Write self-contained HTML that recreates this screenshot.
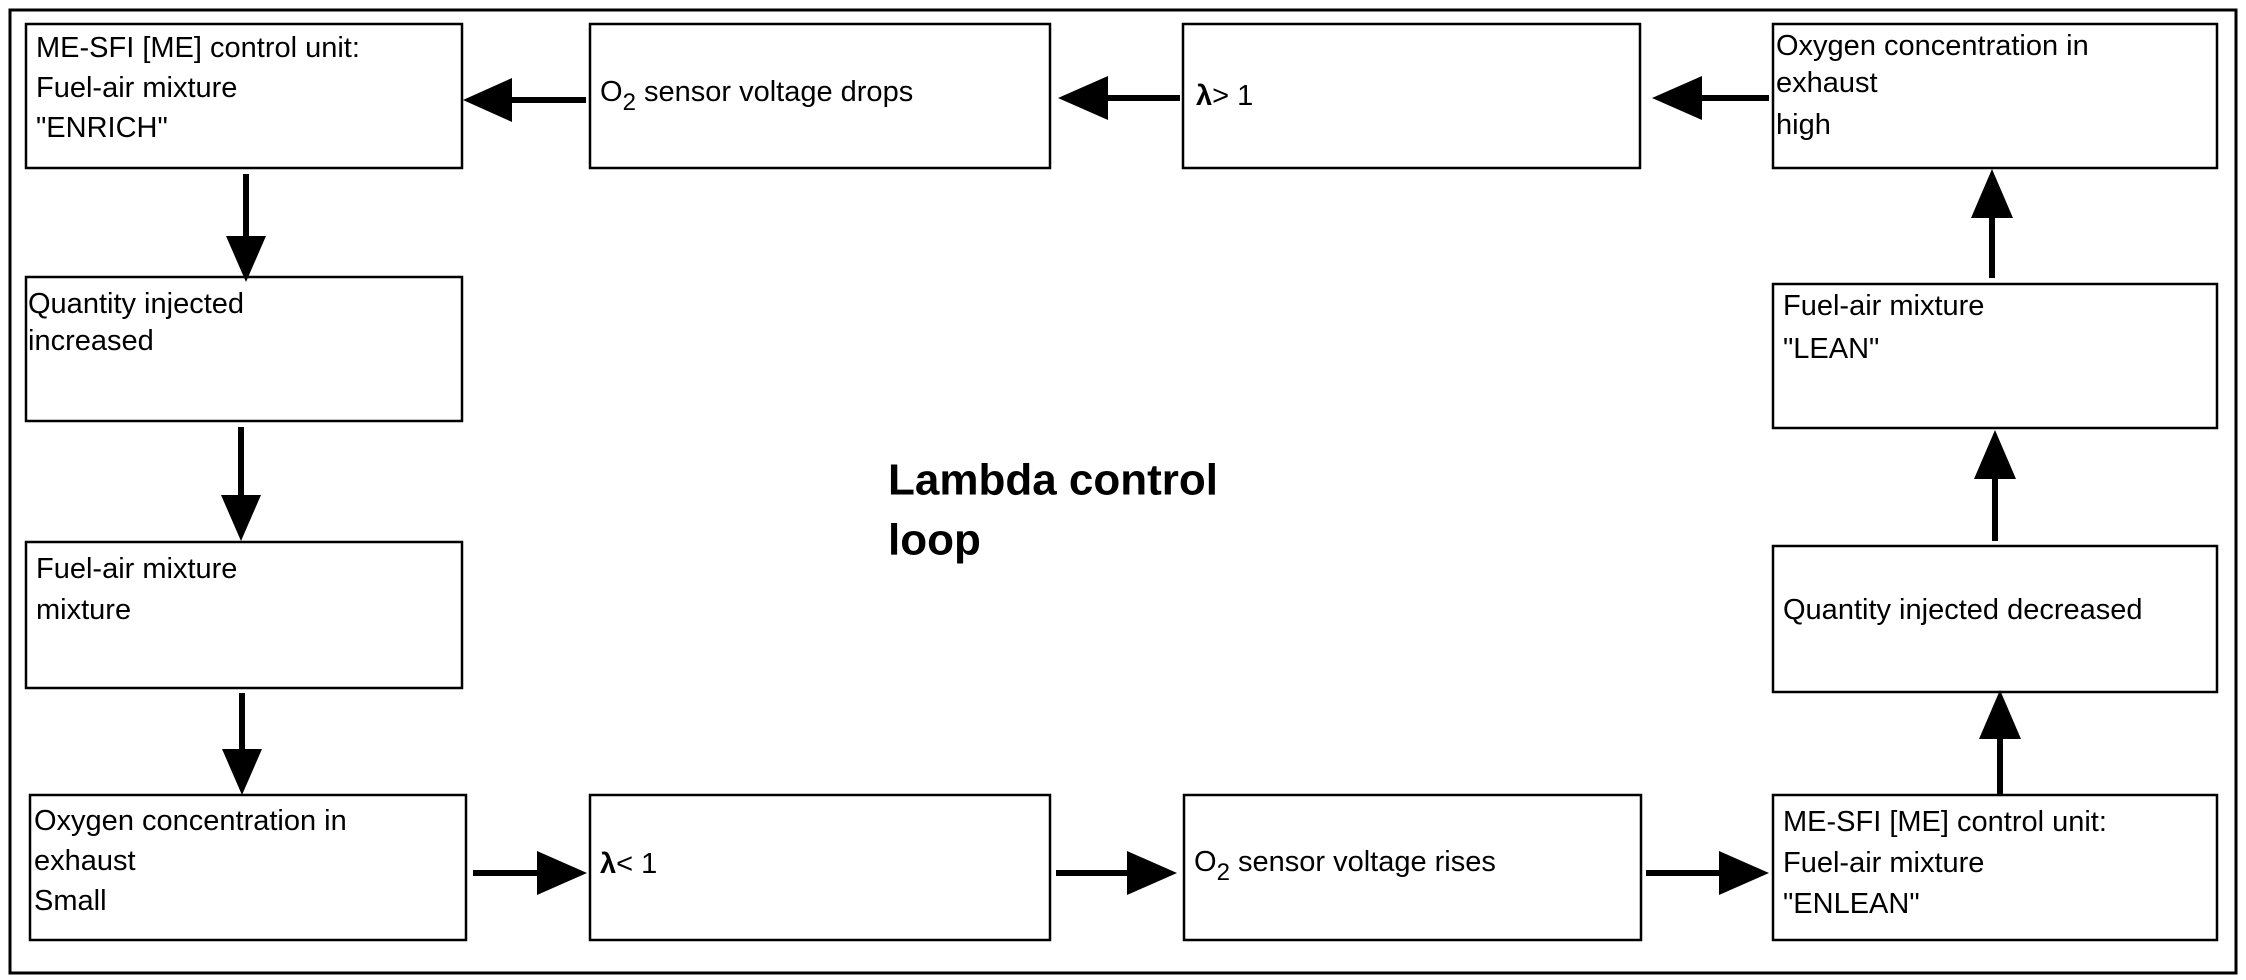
<!DOCTYPE html>
<html><head><meta charset="utf-8"><style>html,body{margin:0;padding:0;background:#fff}svg{display:block}</style></head>
<body>
<svg width="2246" height="980" viewBox="0 0 2246 980" xmlns="http://www.w3.org/2000/svg" font-family="Liberation Sans, Arial, sans-serif" font-size="29" fill="#000">
<rect x="10" y="10" width="2226" height="963" fill="none" stroke="#000" stroke-width="3"/>
<g fill="none" stroke="#000" stroke-width="2.5">
<rect x="26" y="24" width="436" height="144"/>
<rect x="590" y="24" width="460" height="144"/>
<rect x="1183" y="24" width="457" height="144"/>
<rect x="1773" y="24" width="444" height="144"/>
<rect x="26" y="277" width="436" height="144"/>
<rect x="26" y="542" width="436" height="146"/>
<rect x="30" y="795" width="436" height="145"/>
<rect x="590" y="795" width="460" height="145"/>
<rect x="1184" y="795" width="457" height="145"/>
<rect x="1773" y="795" width="444" height="145"/>
<rect x="1773" y="284" width="444" height="144"/>
<rect x="1773" y="546" width="444" height="146"/>
</g>
<g stroke="#000" stroke-width="6">
<line x1="512" y1="100" x2="586" y2="100"/>
<line x1="1108" y1="98" x2="1180" y2="98"/>
<line x1="1702" y1="98" x2="1769" y2="98"/>
<line x1="246" y1="174" x2="246" y2="240"/>
<line x1="241" y1="427" x2="241" y2="495"/>
<line x1="242" y1="693" x2="242" y2="750"/>
<line x1="473" y1="873" x2="540" y2="873"/>
<line x1="1056" y1="873" x2="1130" y2="873"/>
<line x1="1646" y1="873" x2="1720" y2="873"/>
<line x1="2000" y1="794" x2="2000" y2="735"/>
<line x1="1995" y1="541" x2="1995" y2="475"/>
<line x1="1992" y1="278" x2="1992" y2="215"/>
</g>
<g fill="#000">
<polygon points="463,100 512,78 512,122"/>
<polygon points="1058,98 1108,76 1108,120"/>
<polygon points="1652,98 1702,76 1702,120"/>
<polygon points="246,282 226,236 266,236"/>
<polygon points="241,541 221,495 261,495"/>
<polygon points="242,795 222,749 262,749"/>
<polygon points="587,873 537,851 537,895"/>
<polygon points="1177,873 1127,851 1127,895"/>
<polygon points="1769,873 1719,851 1719,895"/>
<polygon points="2000,690 1979,739 2021,739"/>
<polygon points="1995,430 1974,479 2016,479"/>
<polygon points="1992,169 1971,218 2013,218"/>
</g>
<g dominant-baseline="central">
<text x="36" y="48">ME-SFI [ME] control unit:</text>
<text x="36" y="88">Fuel-air mixture</text>
<text x="36" y="128">"ENRICH"</text>
<text x="600" y="92">O<tspan font-size="24" dy="10">2</tspan><tspan dy="-10"> sensor voltage drops</tspan></text>
<text x="1196" y="96"><tspan font-weight="bold">λ</tspan>&gt; 1</text>
<text x="1776" y="46">Oxygen concentration in</text>
<text x="1776" y="83">exhaust</text>
<text x="1776" y="125"> high</text>
<text x="28" y="304">Quantity injected</text>
<text x="28" y="341">increased</text>
<text x="36" y="569">Fuel-air mixture</text>
<text x="36" y="610">mixture</text>
<text x="34" y="821">Oxygen concentration in</text>
<text x="34" y="861">exhaust</text>
<text x="34" y="901"> Small</text>
<text x="600" y="864"><tspan font-weight="bold">λ</tspan>&lt; 1</text>
<text x="1194" y="862">O<tspan font-size="24" dy="10">2</tspan><tspan dy="-10"> sensor voltage rises</tspan></text>
<text x="1783" y="822">ME-SFI [ME] control unit:</text>
<text x="1783" y="863">Fuel-air mixture</text>
<text x="1783" y="904">"ENLEAN"</text>
<text x="1783" y="306">Fuel-air mixture</text>
<text x="1783" y="349">"LEAN"</text>
<text x="1783" y="610">Quantity injected decreased</text>
<text x="888" y="480" font-size="44" font-weight="bold">Lambda control</text>
<text x="888" y="540" font-size="44" font-weight="bold">loop</text>
</g>
</svg>
</body></html>
